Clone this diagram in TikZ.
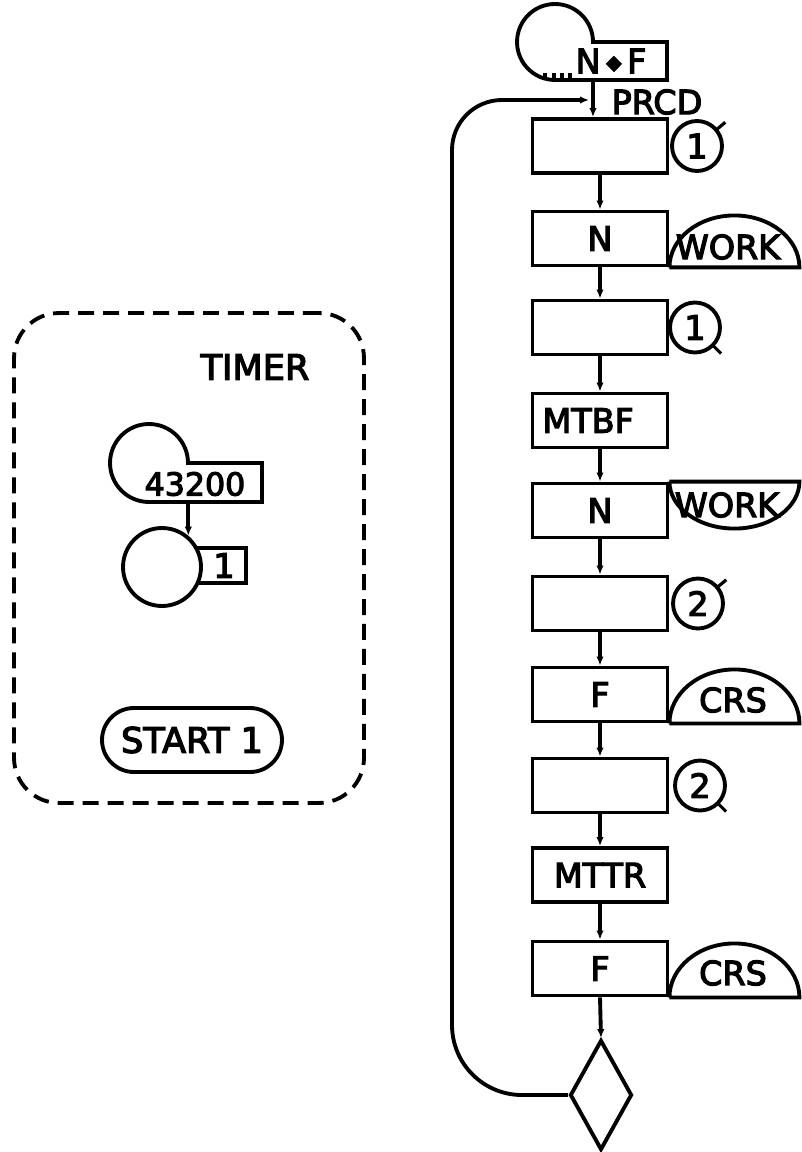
\documentclass[tikz,border=0pt]{standalone}
\usepackage{fontspec}
\setmainfont{DejaVu Sans}[BoldFont={DejaVu Sans},BoldFeatures={FakeBold=3.5}]
\usetikzlibrary{shapes.geometric,arrows.meta}
\newcommand\flab{\fontsize{19}{22}\selectfont\bfseries}
\newcommand\tlab{\fontsize{20}{24}\selectfont\bfseries}
\begin{document}
\begin{tikzpicture}[x=0.02cm,y=0.02cm,line width=2.2pt,
  box/.style={draw,rectangle,minimum width=2.7cm,minimum height=1.08cm,inner sep=0pt,font=\flab},
  ring/.style={draw,circle,minimum size=1cm,inner sep=0pt,font=\flab},
  txt/.style={inner sep=0pt,font=\flab},
  ttxt/.style={inner sep=0pt,font=\tlab},
  arr/.style={-{Latex[length=0.18cm,width=0.15cm]}},
  timerbox/.style={draw,rounded corners=0.9cm,dash pattern=on 0.32cm off 0.18cm,line width=2.2pt},
  tick/.style={line width=1.8pt}]
\useasboundingbox (0,0) rectangle (801,-1152);

% ---------- right-hand chain ----------
\node[txt,minimum width=2.24cm,minimum height=0.76cm,outer sep=0pt] (gr) at (611,-61) {N\,\raisebox{0.12em}{\scalebox{0.6}{◆}}\,F};
\draw (gr.south west) -- (gr.south east) -- (gr.north east) -- (593,-42)
      arc[start angle=0,end angle=270,radius=0.76cm];
\foreach \t in {545,554,562,570} \draw[tick] (\t,-80) -- ++(0,7);
\node[txt] (prcd) at (657,-102) {PRCD};
\coordinate (join) at (593,-100);

\node[box] (b1) at (600,-146) {};
\node[box] (b2) at (600,-238.5) {N};
\node[box] (b3) at (600,-327.5) {};
\node[box,text width=2.3cm,align=left] (b4) at (600,-420.5) {MTBF};
\node[box] (b5) at (600,-510.5) {N};
\node[box] (b6) at (600,-603.5) {};
\node[box] (b7) at (600,-694.5) {F};
\node[box] (b8) at (600,-785.5) {};
\node[box] (b9) at (600,-875) {MTTR};
\node[box] (b10) at (600,-968.5) {F};
\node[draw,diamond,minimum width=1.24cm,minimum height=2.2cm,inner sep=0pt] (d) at (601,-1095) {};

\node[ring] (c1) at (697,-146) {1};
\node[ring] (c2) at (695,-327.5) {1};
\node[ring] (c3) at (698,-603.5) {2};
\node[ring] (c4) at (700,-785.5) {2};
\draw[tick] ([shift={(220:0.06cm)}]c1.40) -- ++(40:0.26cm);
\draw[tick] ([shift={(135:0.06cm)}]c2.-45) -- ++(-45:0.26cm);
\draw[tick] ([shift={(220:0.06cm)}]c3.40) -- ++(40:0.26cm);
\draw[tick] ([shift={(135:0.06cm)}]c4.-45) -- ++(-45:0.26cm);

\draw (b2.south east) -- ++(130,0) arc[start angle=0,end angle=180,x radius=1.3cm,y radius=1.04cm] -- cycle;
\node[txt] (w1) at (728,-247) {WORK};
\draw (b5.north east) -- ++(130,0) arc[start angle=0,end angle=-180,x radius=1.3cm,y radius=0.94cm] -- cycle;
\node[txt] (w2) at (727,-505) {WORK};
\draw (b7.south east) -- ++(130,0) arc[start angle=0,end angle=180,x radius=1.3cm,y radius=1.08cm] -- cycle;
\node[txt] (k1) at (733,-700) {CRS};
\draw (b10.south east) -- ++(130,0) arc[start angle=0,end angle=180,x radius=1.3cm,y radius=1.08cm] -- cycle;
\node[txt] (k2) at (733,-973) {CRS};

\draw[arr] (join |- gr.south) -- (join |- b1.north);
\draw[arr] (b1.south) -- (b2.north);
\draw[arr] (b2.south) -- (b3.north);
\draw[arr] (b3.south) -- (b4.north);
\draw[arr] (b4.south) -- (b5.north);
\draw[arr] (b5.south) -- (b6.north);
\draw[arr] (b6.south) -- (b7.north);
\draw[arr] (b7.south) -- (b8.north);
\draw[arr] (b8.south) -- (b9.north);
\draw[arr] (b9.south) -- (b10.north);
\draw[arr] (b10.south) -- (d.north);
\draw[arr] (d.west) -- (522,-1095) arc[start angle=270,end angle=180,radius=1.4cm]
      -- (452,-150) arc[start angle=180,end angle=90,radius=1cm] -- ([xshift=-0.08cm]join);

% ---------- timer segment ----------
\node[timerbox,minimum width=7cm,minimum height=9.8cm] (tm) at (189,-558) {};
\node[ttxt] (tt) at (255,-367) {TIMER};
\node[inner sep=0pt,outer sep=0pt,minimum width=2.26cm,minimum height=0.78cm] (g2) at (205.5,-482.5) {};
\draw (g2.south west) -- (g2.south east) -- (g2.north east) -- (188,-463)
      arc[start angle=0,end angle=270,radius=0.78cm];
\node[txt,font=\fontsize{18}{20}\selectfont\bfseries] (n43) at (195,-484) {43200};
\node[draw,minimum width=0.98cm,minimum height=0.7cm,inner sep=0pt,font=\flab] (q1) at (221.5,-565.5) {\hspace{0.1cm}1};
\node[draw,circle,minimum size=1.56cm,inner sep=0pt,fill=white] (q) at (162,-567) {};
\draw[arr] (q.50 |- g2.south) -- (q.50);
\node[draw,rounded corners=0.64cm,minimum width=3.6cm,minimum height=1.28cm,font=\tlab] (st) at (192,-740) {START 1};
\end{tikzpicture}
\end{document}
